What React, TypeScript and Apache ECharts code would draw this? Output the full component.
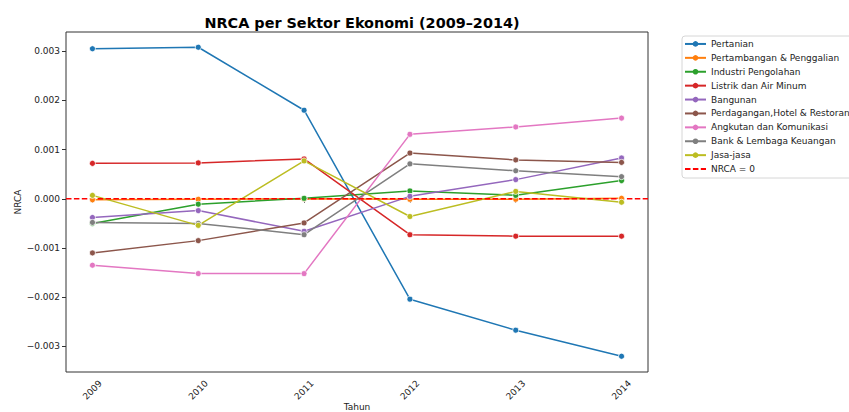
import React, { useEffect, useRef } from "react";
import * as echarts from "echarts";

const years = [2009, 2010, 2011, 2012, 2013, 2014];
const yTicks = [-0.003, -0.002, -0.001, 0, 0.001, 0.002, 0.003];

const sectorNames = [
  "Pertanian",
  "Pertambangan & Penggalian",
  "Industri Pengolahan",
  "Listrik dan Air Minum",
  "Bangunan",
  "Perdagangan,Hotel & Restoran",
  "Angkutan dan Komunikasi",
  "Bank & Lembaga Keuangan",
  "Jasa-jasa",
];

const pertanian = [0.00305, 0.00308, 0.0018, -0.00204, -0.00267, -0.0032];
const pertambangan = [-0.00002, -0.00001, 0.0, -0.00001, -0.00001, 0.00001];
const industri = [-0.0005, -0.00011, 0.00001, 0.00016, 0.00007, 0.00037];
const listrik = [0.00072, 0.00073, 0.00081, -0.00073, -0.00076, -0.00076];
const bangunan = [-0.00038, -0.00024, -0.00066, 0.00005, 0.00039, 0.00083];
const perdagangan = [-0.0011, -0.00085, -0.00049, 0.00093, 0.00079, 0.00074];
const angkutan = [-0.00135, -0.00152, -0.00152, 0.00131, 0.00146, 0.00164];
const bank = [-0.00048, -0.0005, -0.00073, 0.00071, 0.00057, 0.00045];
const jasa = [0.00007, -0.00054, 0.00077, -0.00036, 0.00015, -0.00007];

const sectorValues = [
  pertanian,
  pertambangan,
  industri,
  listrik,
  bangunan,
  perdagangan,
  angkutan,
  bank,
  jasa,
];

const colors = [
  "#1f77b4",
  "#ff7f0e",
  "#2ca02c",
  "#d62728",
  "#9467bd",
  "#8c564b",
  "#e377c2",
  "#7f7f7f",
  "#bcbd22",
];

const FONT = "DejaVu Sans";
const X_MIN = 2008.75;
const X_MAX = 2014.25;

export default function App() {
  const ref = useRef<HTMLDivElement>(null);

  useEffect(() => {
    if (!ref.current) return;
    const chart = echarts.init(ref.current, undefined, { renderer: "svg" });

    const lineSeries: any[] = sectorNames.map((name, i) => ({
      name,
      type: "line",
      data: years.map((y, j) => [y, sectorValues[i][j]]),
      color: colors[i],
      symbol: "circle",
      symbolSize: 6,
      showSymbol: true,
      lineStyle: { width: 1.5, color: colors[i] },
      itemStyle: { color: colors[i], borderColor: "#ffffff", borderWidth: 0.75 },
      emphasis: { disabled: true },
    }));

    lineSeries.push({
      name: "NRCA = 0",
      type: "line",
      data: [
        [X_MIN, 0],
        [X_MAX, 0],
      ],
      color: "#ff0000",
      symbol: "none",
      showSymbol: false,
      lineStyle: { width: 1.5, color: "#ff0000", type: [5.5, 2.4] },
      emphasis: { disabled: true },
    });

    const fmtY = (v: number) => v.toFixed(3).replace("-", "\u2212");

    const legendData: any[] = sectorNames.map((n) => ({ name: n }));
    legendData.push({
      name: "NRCA = 0",
      itemStyle: { color: "rgba(0,0,0,0)", borderWidth: 0, opacity: 0 },
    });

    chart.setOption({
      animation: false,
      textStyle: { fontFamily: FONT },
      title: {
        text: "NRCA per Sektor Ekonomi (2009\u20132014)",
        left: 357,
        textAlign: "center",
        top: 11,
        textStyle: {
          fontFamily: FONT,
          fontSize: 14.4,
          fontWeight: "bold",
          color: "#000",
        },
      },
      legend: {
        orient: "vertical",
        left: 682,
        top: 36,
        padding: [1, 4, 2, 2],
        itemGap: 0,
        itemWidth: 21,
        itemHeight: 7,
        itemStyle: { borderWidth: 0 },
        borderColor: "#d6d6d6",
        borderWidth: 1,
        borderRadius: 3,
        backgroundColor: "#ffffff",
        textStyle: {
          fontFamily: FONT,
          fontSize: 9,
          color: "#222",
          lineHeight: 13.9,
        },
        data: legendData,
      },
      grid: {
        left: 66,
        right: 201,
        top: 32,
        bottom: 40,
        show: true,
        borderColor: "#333",
        borderWidth: 1,
        backgroundColor: "transparent",
        outerBoundsMode: "none",
        containLabel: false,
      },
      xAxis: {
        type: "value",
        min: X_MIN,
        max: X_MAX,
        name: "Tahun",
        nameLocation: "middle",
        nameGap: 30,
        nameMoveOverlap: false,
        nameTextStyle: { fontFamily: FONT, fontSize: 9, color: "#222" },
        axisLine: { show: false },
        splitLine: { show: false },
        axisTick: {
          show: true,
          length: 4,
          lineStyle: { color: "#333" },
          customValues: years,
        },
        axisLabel: {
          customValues: years,
          formatter: (v: number) => String(Math.round(v)),
          rotate: 45,
          align: "center",
          verticalAlign: "middle",
          margin: 18,
          fontFamily: FONT,
          fontSize: 9,
          color: "#222",
        },
      },
      yAxis: {
        type: "value",
        min: -0.00352,
        max: 0.00339,
        name: "NRCA",
        nameLocation: "middle",
        nameGap: 44,
        nameMoveOverlap: false,
        nameTextStyle: { fontFamily: FONT, fontSize: 9, color: "#222" },
        axisLine: { show: false },
        splitLine: { show: false },
        axisTick: {
          show: true,
          length: 4,
          lineStyle: { color: "#333" },
          customValues: yTicks,
        },
        axisLabel: {
          customValues: yTicks,
          formatter: fmtY,
          margin: 6,
          fontFamily: FONT,
          fontSize: 9,
          color: "#222",
        },
      },
      series: lineSeries,
    });

    return () => {
      chart.dispose();
    };
  }, []);

  return (
    <div
      ref={ref}
      style={{ position: "absolute", left: 0, top: 0, width: 849, height: 412 }}
    />
  );
}
